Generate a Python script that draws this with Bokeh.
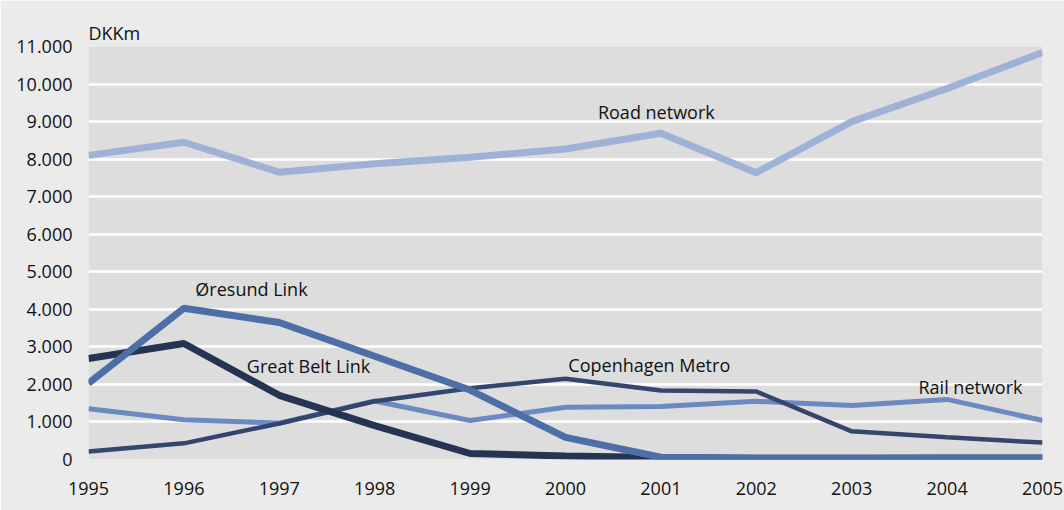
from bokeh.plotting import figure
from bokeh.models import FixedTicker, ColumnDataSource
from bokeh.core.properties import value
from bokeh.embed import file_html
from bokeh.resources import INLINE

years = [1995, 1996, 1997, 1998, 1999, 2000, 2001, 2002, 2003, 2004, 2005]
road_network = [8100, 8450, 7650, 7880, 8050, 8270, 8690, 7640, 9000, 9880, 10840]
rail_network = [1350, 1060, 970, 1560, 1040, 1390, 1410, 1550, 1440, 1600, 1040]
copenhagen_metro = [210, 430, 960, 1550, 1900, 2150, 1840, 1810, 750, 590, 450]
great_belt_link = [2690, 3090, 1710, 900, 160, 90, 50, 30, 30, 40, 40]
oresund_link = [2030, 4030, 3650, 2750, 1850, 590, 60, 30, 30, 30, 30]

y_ticks = [0, 1000, 2000, 3000, 4000, 5000, 6000, 7000, 8000, 9000, 10000, 11000]
y_tick_labels = ["0", "1.000", "2.000", "3.000", "4.000", "5.000", "6.000",
                 "7.000", "8.000", "9.000", "10.000", "11.000"]

label_texts = ["Road network", "Øresund Link", "Great Belt Link", "Copenhagen Metro", "Rail network"]
label_x = [2000.34, 1996.12, 1996.66, 2000.03, 2003.70]
label_y = [9260, 4540, 2480, 2510, 1920]

unit_label = "DKKm"

FONT = "Open Sans"
FS = "18px"

p = figure(width=1064, height=510, output_backend="svg", toolbar_location=None,
           x_range=(1995, 2005), y_range=(0, 11000),
           min_border_left=88, min_border_right=22, min_border_top=46, min_border_bottom=51,
           title=unit_label)
p.border_fill_color = "#ebebeb"
p.background_fill_color = "#dddddd"
p.outline_line_color = None

p.title.align = "left"
p.title.text_font = FONT
p.title.text_font_size = FS
p.title.text_font_style = "normal"
p.title.text_color = "#111111"
p.title.offset = 0
p.title.standoff = 4

p.xgrid.grid_line_color = None
p.ygrid.grid_line_color = "white"
p.ygrid.grid_line_width = 2.5
p.ygrid.ticker = FixedTicker(ticks=y_ticks)

p.yaxis.ticker = FixedTicker(ticks=y_ticks)
p.yaxis.major_label_overrides = {t: l for t, l in zip(y_ticks, y_tick_labels)}
p.xaxis.ticker = FixedTicker(ticks=years)
p.xaxis.major_label_overrides = {y: str(y) for y in years}

for ax in (p.xaxis, p.yaxis):
    ax.axis_line_color = None
    ax.major_tick_line_color = None
    ax.major_tick_in = 0
    ax.major_tick_out = 0
    ax.minor_tick_line_color = None
    ax.minor_tick_in = 0
    ax.minor_tick_out = 0
    ax.major_label_text_font = FONT
    ax.major_label_text_font_size = FS
    ax.major_label_text_color = "#111111"
p.xaxis.major_label_standoff = 22
p.yaxis.major_label_standoff = 16

p.line(years, road_network, line_color="#9eb2d8", line_width=7)
p.line(years, rail_network, line_color="#6b8ac1", line_width=5)
p.line(years, copenhagen_metro, line_color="#34466d", line_width=4.5)
p.line(years, great_belt_link, line_color="#243452", line_width=7)
p.line(years, oresund_link, line_color="#4e6ea8", line_width=7)

src = ColumnDataSource(dict(x=label_x, y=label_y, t=label_texts))
p.text(x="x", y="y", text="t", source=src, text_font=value(FONT), text_font_size=FS,
       text_color="#111111", text_baseline="alphabetic", text_align="left")

open("out.html", "w").write(file_html(p, INLINE))
